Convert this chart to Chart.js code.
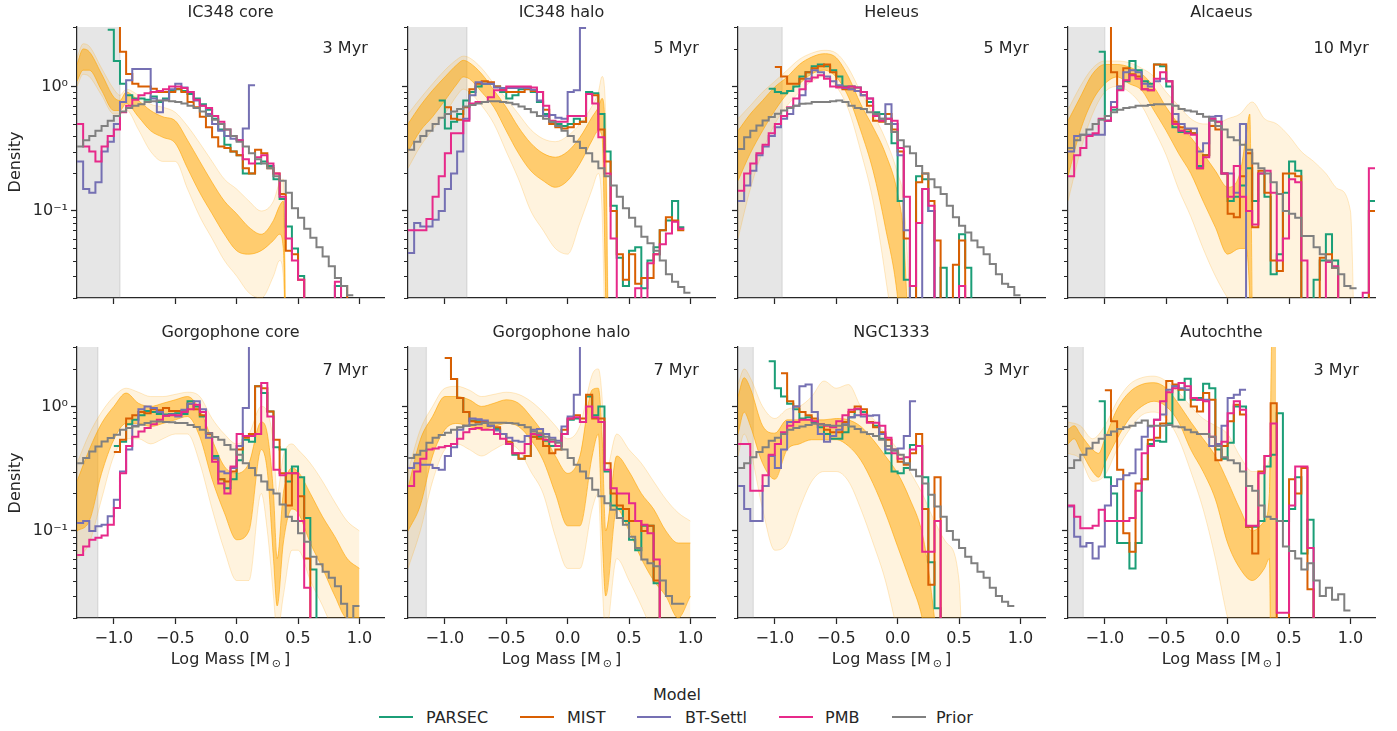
<!DOCTYPE html>
<html>
<head>
<meta charset="utf-8">
<title>Mass functions by cluster</title>
<script src="https://cdn.jsdelivr.net/npm/chart.js@4.4.1/dist/chart.umd.min.js"></script>
<style>
  html,body{margin:0;padding:0;background:#fff;}
  body{width:1397px;height:731px;position:relative;overflow:hidden;font-family:"DejaVu Sans",sans-serif;color:#262626;}
  canvas{position:absolute;}
  .t{position:absolute;font-size:16px;line-height:16px;white-space:nowrap;color:#262626;}
  .c{text-align:center;}
  .ll{position:absolute;height:2px;}
</style>
</head>
<body>
<script>
// ---------------- data ----------------
const panelTitles = ['IC348 core','IC348 halo','Heleus','Alcaeus','Gorgophone core','Gorgophone halo','NGC1333','Autochthe'];
const panelAges = ['3 Myr','5 Myr','5 Myr','10 Myr','7 Myr','7 Myr','3 Myr','3 Myr'];
const completenessCut = [-0.95,-0.82,-0.94,-1.0,-1.13,-1.15,-1.175,-1.175];
const modelNames = ['PARSEC','MIST','BT-Settl','PMB','Prior'];
const modelColors = ['#1b9e77','#d95f02','#7570b3','#e7298a','#808080'];
const xTickValues = [-1.0,-0.5,0.0,0.5,1.0];
const yMajorTicks = [0.1,1];
const yMinorTicks = [0.02,0.03,0.04,0.05,0.06,0.07,0.08,0.09,0.2,0.3,0.4,0.5,0.6,0.7,0.8,0.9,2,3];
const binStart = -1.3, binWidth = 0.05;   // histogram bin edges in log mass

// IC348 core
const h1_parsec = [null,null,null,null,null,2.85,1.6,1.05,0.85,0.8,0.8,0.78,0.83,0.75,0.8,0.92,0.95,0.92,0.87,0.80,0.72,0.65,0.55,0.45,0.34,0.30,0.28,0.20,0.20,0.24,0.25,0.23,0.18,0.125,0.075,0.05,0.03,0,0,0,0,0,0.025,0];
const h1_mist = [null,null,null,null,null,null,5,1.9,1.26,1.05,1.0,1.0,0.96,0.9,0.9,0.9,0.96,0.9,0.75,0.68,0.57,0.47,0.39,0.33,0.32,0.3,0.28,0.22,0.2,0.31,0.29,0.22,0.2,0.137,0.048,0.045,0.028,0,0,0,0,0,0,0.025,0];
const h1_bt = [0.25,0.15,0.14,0.17,0.3,0.36,0.5,0.75,1.12,1.38,1.38,1.38,0.8,0.62,0.78,0.95,1.05,0.98,0.9,0.77,0.7,0.6,0.5,0.44,0.4,0.38,0.37,0.46,1.02];
const h1_pmb = [0.5,0.33,0.3,0.25,0.33,0.4,0.45,0.62,0.7,0.78,0.85,0.88,0.9,0.92,0.95,1.0,1.0,0.97,0.9,0.78,0.7,0.67,0.58,0.52,0.45,0.4,0.37,0.26,0.24,0.27,0.28,0.24,0.2,0.13,0.06,0.04,0.028,0,0,0,0,0,0.027,0];
const h1_prior = [0.33,0.37,0.40,0.44,0.48,0.53,0.58,0.63,0.67,0.70,0.72,0.75,0.76,0.77,0.77,0.76,0.75,0.73,0.70,0.67,0.63,0.58,0.54,0.50,0.45,0.40,0.36,0.33,0.29,0.26,0.24,0.22,0.19,0.175,0.14,0.105,0.088,0.072,0.061,0.051,0.043,0.036,0.029,0.025,0.021];
// IC348 halo
const h2_parsec = [null,null,null,null,null,0.77,0.46,0.52,0.6,0.77,0.9,1.0,1.05,1.05,1.0,0.9,0.8,0.85,0.95,0.98,0.9,0.75,0.6,0.52,0.5,0.48,0.5,0.55,0.52,0.9,0.88,0.6,0.3,0.11,0.042,0.025,0.048,0.051,0.024,0.04,0.051,0.07,0.084,0.12,0.074];
const h2_mist = [null,null,null,null,null,null,0.68,0.55,0.54,0.68,0.95,1.05,1.1,1.08,1.0,0.95,0.9,0.9,0.9,0.95,0.92,0.9,0.65,0.5,0.47,0.46,0.47,0.5,0.52,0.87,0.85,0.45,0.25,0.1,0.045,0.028,0.045,0.026,0.029,0.029,0.045,0.07,0.089,0.084,0.07];
const h2_bt = [0.046,0.08,0.075,0.075,0.085,0.1,0.15,0.2,0.3,0.55,0.85,1.08,1.05,1.05,0.98,0.97,0.97,0.97,0.98,0.97,0.94,0.77,0.58,0.59,0.56,0.55,0.9,0.93,2.95];
const h2_pmb = [0.07,0.07,0.07,0.086,0.13,0.19,0.29,0.42,0.42,0.53,0.73,0.75,0.75,0.82,0.93,0.93,1.0,1.0,1.0,1.0,0.98,0.9,0.7,0.53,0.52,0.52,0.58,0.58,0.58,0.87,0.73,0.39,0.2,0.06,0,0,0,0.024,0,0.038,0.045,0.054,0.066,0.082,0.072];
const h2_prior = [0.31,0.36,0.40,0.44,0.5,0.56,0.6,0.63,0.66,0.69,0.71,0.73,0.75,0.76,0.76,0.75,0.74,0.72,0.69,0.66,0.62,0.58,0.55,0.52,0.48,0.44,0.4,0.36,0.32,0.29,0.25,0.22,0.19,0.16,0.13,0.105,0.088,0.075,0.062,0.055,0.048,0.04,0.031,0.027,0.0245,0.022];
// Heleus
const h3_parsec = [null,null,null,null,null,0.96,0.9,0.88,0.92,1.0,1.2,1.3,1.45,1.5,1.45,1.35,1.2,1.0,1.0,0.98,0.9,0.75,0.62,0.6,0.55,0.35,0.12,0.028,0,0.19,0.18,0.1,0,0.035,0,0,0.065,0.035,0];
const h3_mist = [null,null,null,null,null,null,1.43,1.2,1.05,1.05,1.15,1.3,1.4,1.45,1.5,1.3,1.0,0.95,0.95,0.92,0.85,0.7,0.53,0.52,0.6,0.45,0.3,0.06,0,0.17,0.2,0.12,0.058,0,0,0.037,0.058,0];
const h3_bt = [0.12,0.16,0.21,0.28,0.33,0.4,0.47,0.55,0.6,0.7,0.85,1.15,1.35,1.3,1.2,1.1,1.02,0.97,0.95,0.92,0.85,0.8,0.6,0.55,0.72,0.5,0.28,0.07,0,0,0.15,0.1,0];
const h3_pmb = [0.145,0.2,0.24,0.29,0.34,0.42,0.5,0.58,0.68,0.8,0.95,1.1,1.18,1.23,1.15,1.0,0.98,0.98,1.0,0.98,0.9,0.8,0.58,0.53,0.55,0.53,0.32,0.13,0.025,0.08,0.15,0.11,0,0,0,0,0.025,0];
const h3_prior = [0.315,0.39,0.44,0.486,0.533,0.567,0.603,0.64,0.67,0.7,0.725,0.73,0.748,0.748,0.748,0.76,0.77,0.748,0.7,0.67,0.66,0.62,0.6,0.55,0.5,0.43,0.37,0.33,0.29,0.23,0.2,0.18,0.155,0.137,0.11,0.089,0.076,0.067,0.058,0.051,0.045,0.0375,0.031,0.026,0.0245,0.021];
// Alcaeus
const h4_parsec = [null,null,null,null,null,1.9,0.53,0.65,0.95,1.1,1.6,1.35,1.1,1.05,1.5,1.45,1.0,0.47,0.43,0.43,0.42,0.23,0.28,0.55,0.52,0.2,0.12,0.13,0.16,0.22,0.12,0.2,0.13,0.031,0.045,0.14,0.25,0.21,0,0,0.028,0.04,0.065,0.04,0,0,0,0,0,0.12];
const h4_mist = [null,null,null,null,null,null,4,1.3,1.0,1.4,1.25,1.2,0.95,0.93,1.5,1.5,1.1,0.52,0.47,0.45,0.42,0.22,0.28,0.48,0.45,0.2,0.095,0.089,0.19,0.29,0.074,0.21,0.14,0.04,0.033,0.2,0.2,0.19,0,0,0,0.042,0.045,0.035,0,0,0,0,0,0.1];
const h4_bt = [0.3,0.4,0.41,0.41,0.41,0.41,0.53,0.75,1.0,1.3,1.35,1.3,1.05,1.0,1.1,1.15,1.1,0.6,0.5,0.46,0.46,0.3,0.35,0.57,0.58,0.2,0.2,0.14,0.5,0];
const h4_pmb = [0.19,0.28,0.32,0.4,0.42,0.55,0.53,0.68,0.93,1.12,1.23,1.15,0.95,0.93,1.15,1.3,1.1,0.5,0.44,0.42,0.41,0.22,0.27,0.55,0.52,0.2,0.13,0.23,0.13,0.1,0.078,0.2,0.21,0.14,0.04,0.06,0.18,0.17,0.04,0,0,0,0.039,0.036,0,0,0,0,0.022,0.22];
const h4_prior = [0.32,0.37,0.41,0.45,0.5,0.54,0.58,0.62,0.65,0.67,0.68,0.7,0.7,0.71,0.72,0.72,0.72,0.7,0.66,0.64,0.63,0.6,0.57,0.53,0.48,0.45,0.39,0.37,0.34,0.31,0.24,0.22,0.2,0.17,0.137,0.1,0.095,0.088,0.063,0.063,0.051,0.045,0.04,0.035,0.031,0.025,0.024];
// Gorgophone core
const h5_parsec = [null,null,null,null,null,null,0.48,0.52,0.72,0.78,0.85,0.92,0.9,0.87,0.86,0.87,0.88,0.87,1.1,1.0,0.83,0.61,0.4,0.26,0.22,0.26,0.37,0.54,0.52,1.45,1.28,0.91,0.47,0.45,0.25,0.33,0.27,0.127,0.049,0];
const h5_mist = [null,null,null,null,null,null,0.43,0.54,0.8,0.85,0.9,0.88,0.95,0.93,0.97,0.92,0.92,0.92,1.05,0.95,0.85,0.6,0.38,0.26,0.25,0.3,0.45,0.56,0.6,1.45,1.4,0.91,0.54,0.29,0.16,0.29,0.19,0.06,0];
const h5_bt = [0.116,0.12,0.1,0.109,0.112,0.131,0.178,0.3,0.45,0.7,0.95,1.0,0.97,0.9,0.84,0.86,0.83,0.94,1.05,1.1,0.95,0.56,0.385,0.3,0.29,0.32,0.48,0.97,5];
const h5_pmb = [0.064,0.075,0.085,0.088,0.092,0.112,0.153,0.29,0.48,0.57,0.63,0.67,0.72,0.78,0.84,0.85,0.85,0.9,0.95,1.03,0.9,0.61,0.36,0.24,0.2,0.33,0.6,0.58,0.58,0.6,1.54,0.83,0.31,0.28,0.29,0.29,0.12,0.035,0];
const h5_prior = [0.35,0.385,0.435,0.477,0.523,0.557,0.592,0.65,0.67,0.69,0.712,0.735,0.758,0.758,0.75,0.745,0.735,0.735,0.71,0.683,0.65,0.61,0.567,0.54,0.49,0.45,0.41,0.35,0.32,0.28,0.25,0.214,0.2,0.163,0.13,0.12,0.096,0.082,0.062,0.054,0.047,0.042,0.036,0.026,0.019,0.025];
// Gorgophone halo
const h6_parsec = [null,null,null,null,null,null,2.45,1.66,1.17,0.9,0.77,0.76,0.74,0.7,0.66,0.6,0.5,0.41,0.38,0.4,0.57,0.57,0.53,0.48,0.48,0.6,0.78,0.8,0.75,1.2,0.85,1.0,0.3,0.16,0.15,0.12,0.085,0.07,0.11,0.11,0.038,0];
const h6_mist = [null,null,null,null,null,null,2.45,1.66,1.17,0.9,0.76,0.75,0.75,0.7,0.68,0.6,0.52,0.42,0.38,0.4,0.57,0.55,0.48,0.42,0.45,0.65,0.8,0.85,0.8,1.24,0.8,0.8,0.35,0.2,0.16,0.15,0.12,0.12,0.1,0.11,0.04,0];
const h6_bt = [0.32,0.35,0.34,0.34,0.32,0.31,0.4,0.47,0.65,0.7,0.8,0.79,0.77,0.7,0.64,0.6,0.56,0.53,0.52,0.58,0.65,0.66,0.6,0.56,0.53,0.69,0.83,1.24,5];
const h6_pmb = [0.23,0.3,0.38,0.45,0.46,0.47,0.48,0.5,0.55,0.62,0.66,0.67,0.65,0.65,0.6,0.55,0.5,0.42,0.42,0.5,0.6,0.59,0.54,0.52,0.48,0.6,0.8,0.82,0.75,1.0,0.82,0.75,0.31,0.22,0.2,0.2,0.167,0.12,0.112,0.096,0.059,0];
const h6_prior = [0.385,0.41,0.44,0.51,0.56,0.59,0.615,0.65,0.68,0.7,0.71,0.72,0.735,0.74,0.74,0.74,0.735,0.73,0.71,0.68,0.63,0.61,0.57,0.54,0.51,0.45,0.385,0.34,0.3,0.265,0.214,0.19,0.167,0.148,0.127,0.112,0.09,0.073,0.059,0.055,0.052,0.04,0.03,0.026,0.026];
// NGC1333
const h7_parsec = [null,null,null,null,null,2.3,1.4,1.2,1.05,0.95,0.8,0.82,0.75,0.68,0.6,0.55,0.55,0.62,0.82,0.95,0.9,0.75,0.7,0.55,0.42,0.3,0.29,0.32,0.49,0.48,0.27,0.056,0.024,0];
const h7_mist = [null,null,null,null,null,null,null,1.85,1.1,1.0,0.9,0.85,0.8,0.72,0.65,0.62,0.62,0.75,0.9,1.0,0.95,0.75,0.68,0.62,0.54,0.45,0.36,0.34,0.42,0.6,0.15,0.037,0.27,0];
const h7_bt = [0.23,0.15,0.12,0.12,0.23,0.4,0.32,0.45,0.75,1.0,1.45,1.5,0.9,0.6,0.52,0.58,0.65,0.72,0.82,0.85,0.83,0.84,0.85,0.6,0.45,0.45,0.46,0.58,1.1];
const h7_pmb = [0.5,0.5,0.21,0.21,0.28,0.41,0.5,0.62,0.7,0.75,0.78,0.78,0.76,0.72,0.7,0.68,0.76,0.85,0.94,0.96,0.86,0.74,0.74,0.7,0.56,0.42,0.38,0.39,0.45,0.48,0.068,0.068,0.12,0];
const h7_prior = [0.32,0.35,0.39,0.43,0.47,0.53,0.56,0.6,0.65,0.67,0.69,0.71,0.725,0.72,0.71,0.7,0.7,0.71,0.69,0.66,0.62,0.6,0.58,0.54,0.48,0.44,0.41,0.35,0.31,0.275,0.24,0.195,0.157,0.13,0.1,0.085,0.073,0.062,0.055,0.047,0.042,0.035,0.03,0.027,0.025];
// Autochthe
const h8_parsec = [null,null,null,null,null,1.1,0.27,0.2,0.08,0.08,0.05,0.08,0.26,0.5,0.53,0.52,0.73,1.45,1.13,1.67,1.13,1.17,1.52,1.4,0.45,0.38,0.51,1.0,1.0,0.108,0.108,0.12,0.33,0.41,0.88,0.12,0.15,0.27,0.066,0.123,0];
const h8_mist = [null,null,null,null,null,null,1.35,0.76,0.31,0.096,0.068,0.24,0.26,0.54,0.56,0.73,1.6,1.5,1.36,1.36,1.0,0.91,1.28,1.13,0.37,0.48,0.76,1.03,0.86,0.108,0.066,0.3,0.4,1.06,0,0,0.26,0.2,0.32,0.034,0];
const h8_bt = [0.157,0.09,0.075,0.08,0.06,0.075,0.16,0.23,0.26,0.28,0.29,0.45,0.57,0.69,0.78,0.86,1.36,1.45,1.4,1.36,1.17,1.13,1.13,0.48,0.5,0.7,1.17,1.24,1.36];
const h8_pmb = [0.16,0.13,0.105,0.105,0.11,0.148,0.12,0.12,0.12,0.12,0.127,0.21,0.42,0.48,0.78,1.1,1.3,1.4,1.54,1.45,1.17,1.13,1.1,0.57,0.48,0.52,0.88,1.1,0.94,0.11,0.11,0.29,0.4,0.73,0.022,0.022,0.16,0.33,0.33,0.073,0];
const h8_prior = [0.32,0.37,0.41,0.46,0.51,0.55,0.59,0.63,0.66,0.68,0.7,0.74,0.77,0.7,0.7,0.7,0.71,0.69,0.68,0.65,0.62,0.6,0.6,0.57,0.48,0.39,0.37,0.35,0.3,0.23,0.21,0.16,0.13,0.125,0.12,0.075,0.069,0.06,0.049,0.055,0.04,0.03,0.035,0.028,0.031,0.023];

// posterior mass-function draws, summarised as a dense core envelope and a faint outer envelope
const o1_x = [-1.3,-1.25,-1.2,-1.1,-1.0,-0.95,-0.9,-0.8,-0.7,-0.6,-0.5,-0.4,-0.3,-0.2,-0.1,0.0,0.1,0.2,0.3,0.35,0.38,0.41];
const o1_hi = [1.5,2.0,1.9,1.26,0.82,0.77,0.9,0.77,0.64,0.57,0.53,0.37,0.25,0.17,0.12,0.095,0.074,0.065,0.084,0.11,0.12,0.001];
const o1_lo = [1.1,1.35,1.35,0.93,0.64,0.64,0.73,0.57,0.44,0.39,0.35,0.22,0.14,0.095,0.065,0.048,0.045,0.048,0.058,0.065,0.05,0.001];
const o1_fhi = [1.7,2.2,2.1,1.4,0.95,0.85,0.95,0.85,0.72,0.68,0.62,0.48,0.35,0.25,0.18,0.15,0.12,0.1,0.12,0.17,0.18,0.001];
const o1_flo = [1.0,1.25,1.2,0.85,0.6,0.6,0.65,0.45,0.3,0.25,0.25,0.15,0.09,0.06,0.04,0.03,0.022,0.02,0.03,0.04,0.03,0.001];

const o2_x = [-1.3,-1.2,-1.1,-1.0,-0.9,-0.85,-0.8,-0.7,-0.6,-0.5,-0.4,-0.3,-0.2,-0.1,0.0,0.1,0.2,0.25,0.28,0.31,0.34];
const o2_hi = [0.5,0.7,0.93,1.19,1.5,1.62,1.55,1.26,0.93,0.68,0.47,0.35,0.29,0.27,0.3,0.39,0.57,0.68,0.8,0.3,0.001];
const o2_lo = [0.3,0.44,0.57,0.77,1.05,1.19,1.15,0.9,0.68,0.44,0.29,0.21,0.175,0.155,0.175,0.24,0.37,0.44,0.4,0.02,0.001];
const o2_fhi = [0.6,0.8,1.05,1.35,1.65,1.75,1.7,1.4,1.05,0.8,0.6,0.45,0.38,0.36,0.4,0.5,0.7,0.9,1.2,0.6,0.001];
const o2_flo = [0.22,0.33,0.45,0.6,0.85,0.95,0.9,0.7,0.5,0.3,0.18,0.1,0.07,0.05,0.045,0.08,0.15,0.2,0.1,0.005,0.001];

const o3_x = [-1.3,-1.2,-1.1,-1.0,-0.9,-0.8,-0.7,-0.6,-0.5,-0.4,-0.3,-0.2,-0.1,0.0,0.05,0.1];
const o3_hi = [0.44,0.6,0.77,0.99,1.19,1.5,1.72,1.83,1.7,1.19,0.72,0.47,0.29,0.137,0.06,0.005];
const o3_lo = [0.175,0.29,0.44,0.64,0.87,1.05,1.26,1.35,1.19,0.82,0.44,0.21,0.074,0.02,0.005,0.001];
const o3_fhi = [0.55,0.7,0.9,1.1,1.35,1.65,1.85,1.95,1.85,1.4,0.9,0.6,0.38,0.2,0.12,0.02];
const o3_flo = [0.06,0.15,0.3,0.5,0.7,0.9,1.1,1.2,1.0,0.65,0.3,0.12,0.03,0.005,0.001,0.001];

const o4_x = [-1.3,-1.2,-1.1,-1.0,-0.9,-0.8,-0.7,-0.6,-0.5,-0.4,-0.3,-0.2,-0.1,0.0,0.1,0.15,0.18,0.21];
const o4_hi = [0.53,0.82,1.26,1.5,1.5,1.43,1.26,0.99,0.68,0.5,0.39,0.29,0.21,0.155,0.2,0.4,0.6,0.001];
const o4_lo = [0.19,0.44,0.77,1.05,1.19,1.05,0.93,0.64,0.44,0.29,0.2,0.12,0.074,0.045,0.05,0.05,0.02,0.001];
const o4_fx = [-1.3,-1.2,-1.1,-1.0,-0.9,-0.8,-0.7,-0.6,-0.5,-0.4,-0.3,-0.2,-0.1,0.0,0.1,0.2,0.3,0.4,0.5,0.6,0.7,0.8,0.9,1.0,1.05];
const o4_fhi = [0.65,1.0,1.4,1.6,1.6,1.55,1.4,1.2,0.9,0.7,0.55,0.5,0.5,0.55,0.6,0.75,0.55,0.5,0.4,0.3,0.25,0.2,0.15,0.1,0.001];
const o4_flo = [0.12,0.3,0.6,0.9,1.0,0.9,0.7,0.45,0.28,0.15,0.09,0.05,0.03,0.02,0.015,0.015,0.015,0.015,0.015,0.015,0.015,0.015,0.015,0.015,0.001];

const o5_x = [-1.3,-1.2,-1.1,-1.0,-0.9,-0.8,-0.7,-0.6,-0.5,-0.4,-0.3,-0.2,-0.1,0.0,0.1,0.2,0.25,0.3,0.33,0.38,0.45,0.5,0.6,0.7,0.8,0.9,1.0];
const o5_hi = [0.25,0.45,0.73,1.0,1.28,1.06,1.0,1.06,1.13,1.2,0.94,0.54,0.33,0.29,0.35,0.75,0.6,0.2,0.06,0.2,0.32,0.3,0.2,0.13,0.09,0.06,0.05];
const o5_lo = [0.1,0.12,0.29,0.54,0.73,0.73,0.69,0.73,0.78,0.83,0.57,0.26,0.14,0.085,0.1,0.45,0.3,0.06,0.025,0.08,0.15,0.14,0.08,0.05,0.03,0.02,0.02];
const o5_fhi = [0.35,0.6,0.9,1.2,1.4,1.3,1.2,1.2,1.25,1.3,1.2,0.8,0.6,0.5,0.6,1.0,0.9,0.5,0.2,0.4,0.5,0.45,0.35,0.25,0.17,0.12,0.1];
const o5_flo = [0.06,0.08,0.18,0.4,0.55,0.55,0.5,0.55,0.6,0.6,0.35,0.15,0.07,0.04,0.04,0.2,0.1,0.03,0.015,0.03,0.07,0.07,0.04,0.025,0.015,0.01,0.01];

const o6_x = [-1.3,-1.2,-1.1,-1.0,-0.9,-0.8,-0.7,-0.6,-0.5,-0.4,-0.3,-0.2,-0.1,0.0,0.1,0.2,0.25,0.28,0.31,0.4,0.5,0.6,0.7,0.8,0.9,1.0];
const o6_hi = [0.22,0.54,0.83,1.2,1.2,1.13,1.0,1.06,1.13,1.06,0.83,0.61,0.4,0.29,0.4,1.36,1.4,0.6,0.1,0.4,0.3,0.2,0.15,0.1,0.08,0.08];
const o6_lo = [0.1,0.16,0.4,0.65,0.73,0.69,0.65,0.69,0.73,0.69,0.54,0.37,0.2,0.11,0.11,0.4,0.6,0.1,0.03,0.15,0.1,0.06,0.04,0.03,0.02,0.03];
const o6_fhi = [0.3,0.65,1.0,1.4,1.45,1.35,1.2,1.25,1.3,1.25,1.1,0.9,0.7,0.55,0.7,1.8,2.0,1.2,0.3,0.6,0.45,0.35,0.25,0.18,0.14,0.12];
const o6_flo = [0.05,0.1,0.25,0.45,0.5,0.45,0.4,0.45,0.5,0.45,0.3,0.2,0.09,0.05,0.05,0.15,0.2,0.04,0.015,0.06,0.04,0.025,0.015,0.01,0.01,0.015];

const o7_x = [-1.3,-1.25,-1.2,-1.1,-1.0,-0.9,-0.8,-0.7,-0.6,-0.5,-0.4,-0.3,-0.2,-0.1,0.0,0.1,0.2,0.25,0.3];
const o7_hi = [1.2,1.7,1.4,0.7,0.61,0.78,0.78,0.78,0.78,0.8,0.78,0.69,0.54,0.4,0.29,0.18,0.096,0.05,0.02];
const o7_lo = [0.6,0.9,0.7,0.35,0.26,0.45,0.5,0.54,0.54,0.54,0.48,0.37,0.24,0.14,0.075,0.04,0.02,0.01,0.005];
const o7_fx = [-1.3,-1.25,-1.2,-1.1,-1.0,-0.9,-0.8,-0.7,-0.6,-0.5,-0.4,-0.3,-0.2,-0.1,0.0,0.1,0.2,0.3,0.4,0.5,0.55];
const o7_fhi = [1.5,2.0,1.7,1.0,0.8,0.95,1.0,1.2,1.6,1.4,1.5,1.0,0.8,0.6,0.45,0.3,0.2,0.12,0.08,0.04,0.001];
const o7_flo = [0.4,0.6,0.45,0.15,0.07,0.08,0.15,0.25,0.3,0.3,0.25,0.15,0.08,0.04,0.015,0.005,0.001,0.001,0.001,0.001,0.001];

const o8_x = [-1.3,-1.25,-1.2,-1.1,-1.05,-1.0,-0.9,-0.8,-0.7,-0.6,-0.5,-0.4,-0.3,-0.2,-0.1,0.0,0.1,0.2,0.3,0.34,0.36,0.395];
const o8_hi = [0.65,0.7,0.6,0.45,0.42,0.55,0.95,1.3,1.5,1.55,1.4,1.05,0.75,0.55,0.4,0.25,0.15,0.1,0.12,0.2,3.5,3.5];
const o8_lo = [0.5,0.55,0.45,0.3,0.27,0.35,0.55,0.8,1.0,1.1,1.0,0.75,0.45,0.3,0.18,0.08,0.05,0.04,0.05,0.06,0.001,0.001];
const o8_fx = [-1.3,-1.2,-1.1,-1.0,-0.9,-0.8,-0.7,-0.6,-0.5,-0.4,-0.3,-0.2,-0.1,0.0,0.1,0.2,0.3,0.35];
const o8_fhi = [0.75,0.7,0.55,0.7,1.1,1.5,1.7,1.75,1.6,1.3,1.0,0.8,0.7,0.6,0.4,0.3,0.3,0.4];
const o8_flo = [0.42,0.38,0.25,0.28,0.45,0.65,0.85,0.9,0.8,0.55,0.3,0.15,0.06,0.02,0.01,0.01,0.01,0.01];

const panelHists = [
  [h1_parsec,h1_mist,h1_bt,h1_pmb,h1_prior],
  [h2_parsec,h2_mist,h2_bt,h2_pmb,h2_prior],
  [h3_parsec,h3_mist,h3_bt,h3_pmb,h3_prior],
  [h4_parsec,h4_mist,h4_bt,h4_pmb,h4_prior],
  [h5_parsec,h5_mist,h5_bt,h5_pmb,h5_prior],
  [h6_parsec,h6_mist,h6_bt,h6_pmb,h6_prior],
  [h7_parsec,h7_mist,h7_bt,h7_pmb,h7_prior],
  [h8_parsec,h8_mist,h8_bt,h8_pmb,h8_prior]
];
const panelBands = [
  {cx:o1_x,chi:o1_hi,clo:o1_lo,fx:o1_x,fhi:o1_fhi,flo:o1_flo},
  {cx:o2_x,chi:o2_hi,clo:o2_lo,fx:o2_x,fhi:o2_fhi,flo:o2_flo},
  {cx:o3_x,chi:o3_hi,clo:o3_lo,fx:o3_x,fhi:o3_fhi,flo:o3_flo},
  {cx:o4_x,chi:o4_hi,clo:o4_lo,fx:o4_fx,fhi:o4_fhi,flo:o4_flo},
  {cx:o5_x,chi:o5_hi,clo:o5_lo,fx:o5_x,fhi:o5_fhi,flo:o5_flo},
  {cx:o6_x,chi:o6_hi,clo:o6_lo,fx:o6_x,fhi:o6_fhi,flo:o6_flo},
  {cx:o7_x,chi:o7_hi,clo:o7_lo,fx:o7_fx,fhi:o7_fhi,flo:o7_flo},
  {cx:o8_x,chi:o8_hi,clo:o8_lo,fx:o8_fx,fhi:o8_fhi,flo:o8_flo}
];

// ---------------- layout ----------------
const PLOT_LEFT = [77,408,738,1068];
const PLOT_TOP = [27,347];
const PLOT_W = 307, PLOT_H = 271;
const PAD_L = 75, PAD_T = 15, PAD_R = 15, PAD_B = 45;
const X_MIN = -1.3, X_MAX = 1.2, Y_MIN = 0.02, Y_MAX = 3;
const ZERO = 1e-4;
const INK = '#262626';

Chart.defaults.font.family = '"DejaVu Sans", sans-serif';
Chart.defaults.font.size = 16;
Chart.defaults.color = INK;

function stepPoints(vals){
  const pts = []; let last = -1;
  for (let i = 0; i < vals.length; i++){
    const v = vals[i]; if (v === null) continue;
    pts.push({x: +(binStart + i*binWidth).toFixed(4), y: v > 0 ? v : ZERO}); last = i;
  }
  if (last >= 0){ const v = vals[last]; pts.push({x: +(binStart + (last+1)*binWidth).toFixed(4), y: v > 0 ? v : ZERO}); }
  return pts;
}
function curvePoints(xs, ys){ return xs.map((x,i)=>({x:x, y:ys[i]})); }

const minorTicks = {
  id:'minorTicks',
  afterDraw(chart){
    const y = chart.scales.y, ctx = chart.ctx, L = chart.chartArea.left;
    ctx.save(); ctx.strokeStyle = INK; ctx.lineWidth = 1;
    yMinorTicks.forEach(v=>{
      const py = Math.round(y.getPixelForValue(v)) + 0.5;
      ctx.beginPath(); ctx.moveTo(L, py); ctx.lineTo(L-4, py); ctx.stroke();
    });
    ctx.restore();
  }
};

function addText(html, left, top, cls, extraStyle){
  const d = document.createElement('div');
  d.className = 't ' + (cls||'');
  d.style.left = left + 'px'; d.style.top = top + 'px';
  if (extraStyle) Object.assign(d.style, extraStyle);
  d.innerHTML = html;
  document.body.appendChild(d);
  return d;
}

const fmtX = v => (v < 0 ? '\u2212' : '') + Math.abs(v).toFixed(1);

for (let i = 0; i < 8; i++){
  const col = i % 4, row = Math.floor(i/4);
  const pl = PLOT_LEFT[col], pt = PLOT_TOP[row];
  const cv = document.createElement('canvas');
  cv.width = PAD_L + PLOT_W + PAD_R; cv.height = PAD_T + PLOT_H + PAD_B;
  cv.style.left = (pl - PAD_L) + 'px'; cv.style.top = (pt - PAD_T) + 'px';
  cv.style.width = cv.width + 'px'; cv.style.height = cv.height + 'px';
  document.body.appendChild(cv);

  const band = panelBands[i];
  const datasets = [];
  datasets.push({ // region below completeness limit
    data:[{x:X_MIN,y:Y_MAX},{x:completenessCut[i],y:Y_MAX}], fill:'start',
    backgroundColor:'rgba(128,128,128,0.2)', borderWidth:0, pointRadius:0, order:100
  });
  datasets.push({
    data:[{x:completenessCut[i],y:Y_MIN},{x:completenessCut[i],y:Y_MAX}],
    borderColor:'rgba(128,128,128,0.22)', borderWidth:1.2, pointRadius:0, fill:false, order:99
  });
  datasets.push({data:curvePoints(band.fx,band.fhi), fill:'+1', backgroundColor:'rgba(255,165,0,0.13)',
    borderColor:'rgba(255,165,0,0.22)', borderWidth:1, pointRadius:0, cubicInterpolationMode:'monotone', order:91});
  datasets.push({data:curvePoints(band.fx,band.flo), fill:false,
    borderColor:'rgba(255,165,0,0.22)', borderWidth:1, pointRadius:0, cubicInterpolationMode:'monotone', order:92});
  datasets.push({data:curvePoints(band.cx,band.chi), fill:'+1', backgroundColor:'rgba(255,165,0,0.5)',
    borderColor:'rgba(255,165,0,0.6)', borderWidth:1, pointRadius:0, cubicInterpolationMode:'monotone', order:81});
  datasets.push({data:curvePoints(band.cx,band.clo), fill:false,
    borderColor:'rgba(255,165,0,0.6)', borderWidth:1, pointRadius:0, cubicInterpolationMode:'monotone', order:82});
  panelHists[i].forEach((vals,m)=>{
    datasets.push({label:modelNames[m], data:stepPoints(vals), stepped:true, fill:false,
      borderColor:modelColors[m], borderWidth:2, pointRadius:0, order:5-m});
  });

  new Chart(cv, {
    type:'line',
    data:{datasets},
    options:{
      responsive:false, animation:false, devicePixelRatio:1, events:[],
      layout:{padding:{left:0, top:PAD_T, right:PAD_R, bottom:0}},
      plugins:{legend:{display:false}, tooltip:{enabled:false}, title:{display:false}},
      scales:{
        x:{type:'linear', position:'bottom', min:X_MIN, max:X_MAX, bounds:'data',
           afterBuildTicks:s=>{ s.ticks = xTickValues.map(v=>({value:v})); },
           afterFit:s=>{ s.height = PAD_B; },
           ticks:{autoSkip:false, maxRotation:0, minRotation:0, padding:5, color:INK, font:{size:16},
                  callback:v=> row===1 ? fmtX(v) : ''},
           grid:{display:true, drawOnChartArea:false, drawTicks:true, tickLength:6, tickWidth:1.25, tickColor:INK},
           border:{display:true, color:INK, width:1.25}},
        y:{type:'logarithmic', position:'left', min:Y_MIN, max:Y_MAX, bounds:'data',
           afterBuildTicks:s=>{ s.ticks = yMajorTicks.map(v=>({value:v, major:true})); },
           afterFit:s=>{ s.width = PAD_L; },
           ticks:{autoSkip:false, padding:3, color:INK, font:{size:16},
                  callback:v=> col===0 ? (Math.abs(v-1)<1e-9 ? '10\u2070' : '10\u207B\u00B9') : ''},
           grid:{display:true, drawOnChartArea:false, drawTicks:true, tickLength:6, tickWidth:1.25, tickColor:INK},
           border:{display:true, color:INK, width:1.25}}
      }
    },
    plugins:[minorTicks]
  });

  // panel title and age annotation
  addText(panelTitles[i], pl, row===0 ? 3.8 : 324.3, 'c', {width:PLOT_W+'px'});
  addText(panelAges[i], pl + 0.8*PLOT_W, row===0 ? 40 : 361.5);
  if (row === 1){
    addText('Log Mass [M<span style="font-size:11px;position:relative;top:3px;margin:0 3px 0 2px">\u2299</span>]', pl, 651, 'c', {width:PLOT_W+'px'});
  }
}
// y-axis labels
[162, 482.8].forEach(cy=>{
  addText('Density', 15-60, cy-8, 'c', {width:'120px', transform:'rotate(-90deg)'});
});
// legend
addText('Model', 577, 686.5, 'c', {width:'200px'});
const legendLineX = [379.3, 520.3, 636.7, 778.6, 892];
const legendTextX = [426, 567, 685, 825, 936];
modelNames.forEach((n,m)=>{
  const l = document.createElement('div'); l.className = 'll';
  l.style.left = legendLineX[m]+'px'; l.style.top = '716.3px'; l.style.width = '34px';
  l.style.background = modelColors[m];
  document.body.appendChild(l);
  addText(n, legendTextX[m], 709.8);
});
</script>
</body>
</html>
